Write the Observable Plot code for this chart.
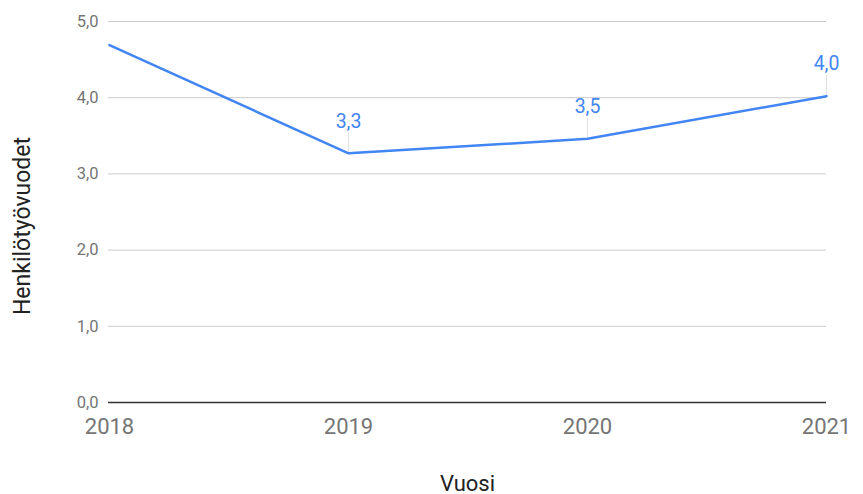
<!DOCTYPE html>
<html><head><meta charset="utf-8">
<script src="https://cdn.jsdelivr.net/npm/d3@7"></script>
<script src="https://cdn.jsdelivr.net/npm/@observablehq/plot@0.6"></script>
<style>body{margin:0;background:#fff;font-family:Roboto,sans-serif}</style>
</head><body><div id="chart"></div>
<script>
const years = ["2018", "2019", "2020", "2021"];
const values = [4.69, 3.27, 3.46, 4.02];
const showLabel = [false, true, true, true];
const yTicks = [0, 1, 2, 3, 4, 5];
const xTitle = "Vuosi";
const yTitle = "Henkilötyövuodet";

const data = years.map((y, i) => ({year: y, value: values[i], label: showLabel[i]}));
const labeled = data.filter(d => d.label);
const fmt = v => v.toFixed(1).replace(".", ",");

const chart = Plot.plot({
  width: 863, height: 494,
  marginLeft: 108, marginRight: 37, marginTop: 21, marginBottom: 92,
  style: {fontFamily: "Roboto, sans-serif", background: "#fff"},
  x: {type: "point", domain: years, padding: 0},
  y: {domain: [0, 5]},
  marks: [
    Plot.ruleY(yTicks.filter(t => t > 0), {stroke: "#cccccc", strokeWidth: 1}),
    Plot.ruleY([0], {stroke: "#333333", strokeWidth: 1.5}),
    Plot.axisY({ticks: yTicks, tickSize: 0, tickPadding: 10, tickFormat: fmt, fontSize: 16.5, fill: "#757575", label: null}),
    Plot.axisX({tickSize: 0, tickPadding: 16, fontSize: 22, fill: "#757575", label: null}),
    Plot.ruleX(labeled, {x: "year", y1: "value", y2: d => d.value + 0.27, stroke: "#e0e0e0", strokeWidth: 1}),
    Plot.line(data, {x: "year", y: "value", stroke: "#4285F4", strokeWidth: 2.5}),
    Plot.text(labeled, {x: "year", y: "value", text: d => fmt(d.value), dy: -32, fill: "#4285F4", fontSize: 19.5}),
    Plot.text([xTitle], {frameAnchor: "bottom", dy: 88, text: d => d, fontSize: 22, fill: "#222"}),
    Plot.text([yTitle], {frameAnchor: "left", dx: -86, dy: 14, rotate: -90, textAnchor: "middle", text: d => d, fontSize: 23, fill: "#222"})
  ]
});
document.getElementById("chart").appendChild(chart);
</script></body></html>
